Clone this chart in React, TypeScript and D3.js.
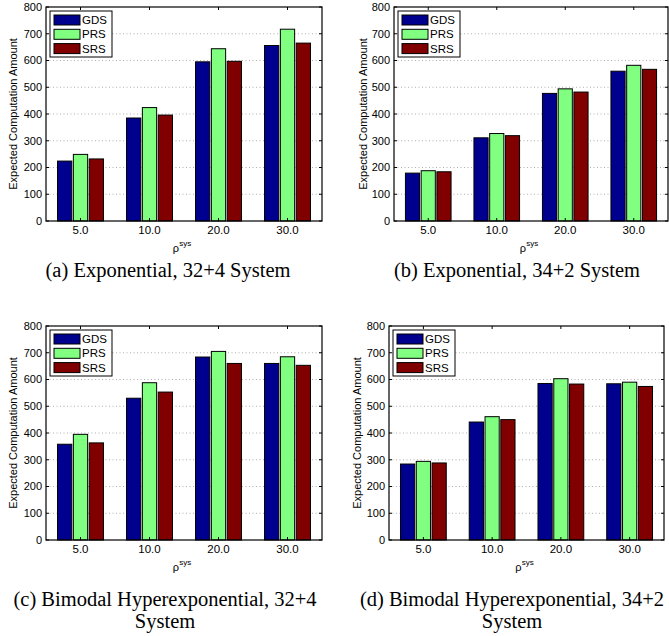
import React from "react";
import * as d3 from "d3";

const categories = ["5.0", "10.0", "20.0", "30.0"];
const seriesNames = ["GDS", "PRS", "SRS"];
const yTicks = [0, 100, 200, 300, 400, 500, 600, 700, 800];

// values [category][series]
const expA = [
  [224, 249, 232],
  [385, 424, 396],
  [595, 644, 597],
  [656, 717, 665],
];
const expB = [
  [179, 188, 184],
  [311, 327, 319],
  [477, 494, 482],
  [560, 582, 567],
];
const bimC = [
  [358, 395, 363],
  [530, 588, 553],
  [684, 705, 660],
  [660, 685, 653],
];
const bimD = [
  [284, 294, 288],
  [441, 461, 450],
  [585, 603, 583],
  [584, 590, 574],
];

const captionA = ["(a) Exponential, 32+4 System"];
const captionB = ["(b) Exponential, 34+2 System"];
const captionC = ["(c) Bimodal Hyperexponential, 32+4", "System"];
const captionD = ["(d) Bimodal Hyperexponential, 34+2", "System"];

const colors = ["#00008F", "#80FF80", "#800000"];
const SANS = "'Liberation Sans', Arial, sans-serif";
const SERIF = "'Liberation Serif', 'Times New Roman', serif";

type PanelProps = {
  data: number[][];
  left: number;
  right: number;
  top: number;
  bottom: number;
  ylabelX: number;
  caption: string[];
  capX: number;
  capY: number;
};

function Panel({ data, left, right, top, bottom, ylabelX, caption, capX, capY }: PanelProps) {
  const x = d3.scaleBand<string>().domain(categories).range([left, right]).padding(0);
  const bw = x.bandwidth();
  const x1 = d3
    .scaleBand<string>()
    .domain(seriesNames)
    .range([bw * 0.5 - bw * 0.333, bw * 0.5 + bw * 0.333])
    .paddingInner(0.1);
  const y = d3.scaleLinear().domain([0, 800]).range([bottom, top]);
  const cx = (c: string) => (x(c) as number) + bw / 2;
  const midY = (top + bottom) / 2;
  const midX = (left + right) / 2;
  return (
    <g>
      {yTicks
        .filter((t) => t > 0 && t < 800)
        .map((t) => (
          <line
            key={"g" + t}
            x1={left}
            x2={right}
            y1={y(t)}
            y2={y(t)}
            stroke="#9a9a9a"
            strokeWidth={0.8}
            strokeDasharray="1,2.5"
          />
        ))}
      {data.map((row, ci) =>
        row.map((v, si) => (
          <rect
            key={ci + "-" + si}
            x={(x(categories[ci]) as number) + (x1(seriesNames[si]) as number)}
            y={y(v)}
            width={x1.bandwidth()}
            height={y(0) - y(v)}
            fill={colors[si]}
            stroke="#000"
            strokeWidth={1}
          />
        ))
      )}
      <rect x={left} y={top} width={right - left} height={bottom - top} fill="none" stroke="#000" strokeWidth={1.2} />
      {yTicks.map((t) => (
        <g key={"yt" + t}>
          <line x1={left} x2={left + 3} y1={y(t)} y2={y(t)} stroke="#000" />
          <line x1={right} x2={right - 3} y1={y(t)} y2={y(t)} stroke="#000" />
          <text
            x={left - 4}
            y={y(t)}
            dy="0.36em"
            textAnchor="end"
            fontFamily={SANS}
            fontSize={11}
            fill="#000"
          >
            {t}
          </text>
        </g>
      ))}
      {categories.map((c) => (
        <g key={"xt" + c}>
          <line x1={cx(c)} x2={cx(c)} y1={bottom} y2={bottom - 3} stroke="#000" />
          <line x1={cx(c)} x2={cx(c)} y1={top} y2={top + 3} stroke="#000" />
          <text x={cx(c)} y={bottom + 13} textAnchor="middle" fontFamily={SANS} fontSize={11.5} fill="#000">
            {c}
          </text>
        </g>
      ))}
      <text x={midX - 2} y={bottom + 31} textAnchor="middle" fontFamily={SANS} fontSize={11} fill="#000">
        ρ
        <tspan dy={-6} fontSize={8}>
          sys
        </tspan>
      </text>
      <text
        transform={`translate(${ylabelX},${midY}) rotate(-90)`}
        textAnchor="middle"
        dy="0.35em"
        fontFamily={SANS}
        fontSize={11}
        fill="#000"
      >
        Expected Computation Amount
      </text>
      <g transform={`translate(${left + 4},${top + 4})`}>
        <rect x={0} y={0} width={62} height={46} fill="#fff" stroke="#000" strokeWidth={1} />
        {seriesNames.map((s, i) => (
          <g key={s} transform={`translate(0,${9 + i * 14.3})`}>
            <rect x={4} y={-5} width={26} height={10} fill={colors[i]} stroke="#000" strokeWidth={1} />
            <text x={32} y={0} dy="0.36em" fontFamily={SANS} fontSize={11.5} fill="#000">
              {s}
            </text>
          </g>
        ))}
      </g>
      {caption.map((line, i) => (
        <text
          key={i}
          x={capX}
          y={capY + i * 22}
          textAnchor="middle"
          fontFamily={SERIF}
          fontSize={20.5}
          fill="#000"
        >
          {line}
        </text>
      ))}
    </g>
  );
}

export default function App() {
  return (
    <svg
      width={669}
      height={636}
      style={{ position: "absolute", left: 0, top: 0, background: "#fff" }}
    >
      <rect x={0} y={0} width={669} height={636} fill="#fff" />
      <Panel data={expA} left={46} right={322} top={7} bottom={221} ylabelX={13} caption={captionA} capX={168} capY={277} />
      <Panel data={expB} left={394} right={668} top={7} bottom={221} ylabelX={363} caption={captionB} capX={517} capY={277} />
      <Panel data={bimC} left={46} right={322} top={326} bottom={540} ylabelX={13} caption={captionC} capX={165} capY={606} />
      <Panel data={bimD} left={389} right={664} top={326} bottom={540} ylabelX={357} caption={captionD} capX={512} capY={606} />
    </svg>
  );
}
